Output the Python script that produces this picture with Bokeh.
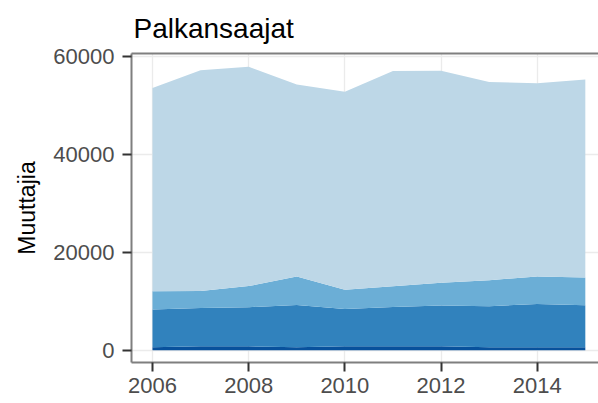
from bokeh.plotting import figure
from bokeh.models import ColumnDataSource, LinearAxis, FixedTicker, Range1d, NumeralTickFormatter
from bokeh.embed import file_html
from bokeh.resources import INLINE

# ---- data ----
years = [2006, 2007, 2008, 2009, 2010, 2011, 2012, 2013, 2014, 2015]
layer_1 = [600, 800, 800, 600, 800, 800, 800, 600, 600, 600]
layer_2 = [7700, 7850, 8000, 8650, 7600, 8050, 8350, 8400, 8850, 8600]
layer_3 = [3750, 3470, 4300, 5800, 3950, 4230, 4620, 5310, 5600, 5660]
layer_4 = [41550, 45100, 44830, 39250, 40470, 44000, 43330, 40530, 39510, 40470]

x_ticks = [2006, 2008, 2010, 2012, 2014]
y_ticks = [0, 20000, 40000, 60000]
title_text = "Palkansaajat"
y_label = "Muuttajia"

names = ["layer_1", "layer_2", "layer_3", "layer_4"]
colors = ["#08519C", "#3182BD", "#6BAED6", "#BDD7E7"]

src = ColumnDataSource(dict(year=years, layer_1=layer_1, layer_2=layer_2,
                            layer_3=layer_3, layer_4=layer_4))

FONT = "Liberation Sans"

p = figure(width=598, height=403, output_backend="svg", toolbar_location=None,
           x_range=Range1d(2005.564, 2015.274), y_range=Range1d(-2514, 60644),
           min_border_left=131, min_border_right=0, min_border_bottom=41,
           min_border_top=53)

p.varea_stack(stackers=names, x="year", color=colors, source=src)

p.outline_line_color = None
p.background_fill_color = "white"

# grid
p.xgrid.ticker = FixedTicker(ticks=x_ticks)
p.ygrid.ticker = FixedTicker(ticks=y_ticks)
for g in (p.xgrid, p.ygrid):
    g.grid_line_color = "#EBEBEB"
    g.grid_line_width = 1.3
    g.minor_grid_line_color = None

# axes
p.xaxis.ticker = FixedTicker(ticks=x_ticks)
p.yaxis.ticker = FixedTicker(ticks=y_ticks)
p.yaxis.formatter = NumeralTickFormatter(format="0")
for ax in (p.xaxis, p.yaxis):
    ax.axis_line_color = "#7F7F7F"
    ax.axis_line_width = 2
    ax.major_tick_line_color = "#333333"
    ax.major_tick_line_width = 2
    ax.major_tick_out = 9
    ax.major_tick_in = 0
    ax.minor_tick_line_color = None
    ax.major_label_text_color = "#4D4D4D"
    ax.major_label_text_font = FONT
    ax.major_label_text_font_size = "22px"
p.xaxis.major_label_standoff = 6
p.yaxis.major_label_standoff = 8

p.yaxis.axis_label = y_label
p.yaxis.axis_label_text_font = FONT
p.yaxis.axis_label_text_font_size = "23px"
p.yaxis.axis_label_text_font_style = "normal"
p.yaxis.axis_label_text_color = "black"
p.yaxis.axis_label_standoff = 10

# top border drawn as a bare axis line
top = LinearAxis(axis_line_color="#7F7F7F", axis_line_width=2,
                 major_tick_line_color=None, minor_tick_line_color=None,
                 major_tick_out=0, major_tick_in=0, minor_tick_out=0,
                 major_label_text_font_size="0px", major_label_standoff=0,
                 ticker=FixedTicker(ticks=[]))
p.add_layout(top, "above")

# title
p.title.text = title_text
p.title.text_font = FONT
p.title.text_font_size = "28px"
p.title.text_font_style = "normal"
p.title.text_color = "black"
p.title.align = "left"
p.title.offset = 2
p.title.standoff = 20

open("out.html", "w").write(file_html(p, INLINE))
